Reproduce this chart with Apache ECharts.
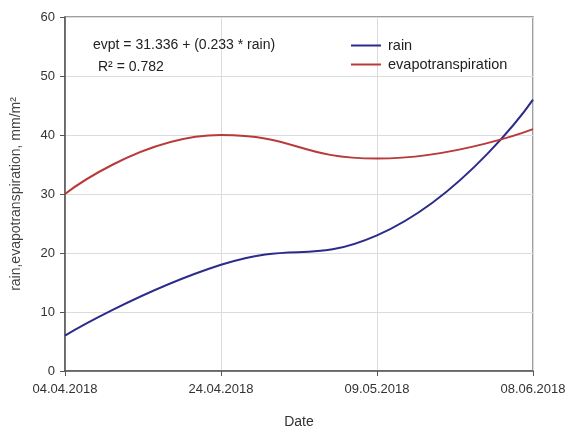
<!DOCTYPE html>
<html>
<head>
<meta charset="utf-8">
<script src="https://cdn.jsdelivr.net/npm/echarts@6/dist/echarts.min.js"></script>
<style>html,body{margin:0;padding:0;background:#fff;}#c{width:566px;height:428px;}</style>
</head>
<body>
<div id="c"></div>
<script>
const categories = ['04.04.2018', '24.04.2018', '09.05.2018', '08.06.2018'];
const rain = [6, 18, 23, 46];
const evapotranspiration = [30, 40, 36, 41];
const yTicks = { min: 0, max: 60, interval: 10 };
const equationText = 'evpt = 31.336 + (0.233 * rain)';
const r2Text = 'R² = 0.782';

const FONT = '"Liberation Sans", Arial, sans-serif';
const chart = echarts.init(document.getElementById('c'), null, { renderer: 'canvas' });
chart.setOption({
  animation: false,
  backgroundColor: '#fff',
  textStyle: { fontFamily: FONT },
  grid: { left: 65, right: 33, top: 17, bottom: 57, show: true, borderColor: '#808080', borderWidth: 1.5,
          containLabel: false, outerBoundsMode: 'none' },
  title: [
    { text: equationText, left: 88, top: 33, textStyle: { fontSize: 14, fontWeight: 'normal', color: '#222', fontFamily: FONT } },
    { text: r2Text, left: 93, top: 55, textStyle: { fontSize: 14, fontWeight: 'normal', color: '#222', fontFamily: FONT } }
  ],
  legend: {
    orient: 'vertical', left: 346, top: 33, itemGap: 4, itemWidth: 30, itemHeight: 14,
    icon: 'path://M0,6 L30,6 L30,8 L0,8 Z',
    textStyle: { fontSize: 14.5, color: '#222', fontFamily: FONT, padding: [0, 0, 0, 2] },
    data: ['rain', 'evapotranspiration']
  },
  xAxis: {
    type: 'category', data: categories, boundaryGap: false,
    name: 'Date', nameLocation: 'middle', nameGap: 44,
    nameTextStyle: { fontSize: 14, color: '#333', fontFamily: FONT },
    axisLine: { lineStyle: { color: '#555', width: 1.5 } },
    axisTick: { show: true, length: 5, inside: false, alignWithLabel: true, lineStyle: { color: '#555' } },
    axisLabel: { fontSize: 13, color: '#333', margin: 12, fontFamily: FONT },
    splitLine: { show: true, lineStyle: { color: '#dcdcdc', width: 1 } }
  },
  yAxis: {
    type: 'value', min: yTicks.min, max: yTicks.max, interval: yTicks.interval,
    name: 'rain,evapotranspiration, mm/m²', nameLocation: 'middle', nameGap: 42,
    nameTextStyle: { fontSize: 14, color: '#444', fontFamily: FONT },
    axisLine: { show: true, lineStyle: { color: '#555', width: 1.5 } },
    axisTick: { show: true, length: 5, lineStyle: { color: '#555' } },
    axisLabel: { fontSize: 13, color: '#333', margin: 10, fontFamily: FONT },
    splitLine: { show: true, lineStyle: { color: '#dcdcdc', width: 1 } }
  },
  series: [
    { name: 'rain', type: 'line', data: rain, smooth: 0.5, showSymbol: false, symbol: 'none',
      lineStyle: { color: '#2b2b8c', width: 2 }, itemStyle: { color: '#2b2b8c' } },
    { name: 'evapotranspiration', type: 'line', data: evapotranspiration, smooth: 0.5, showSymbol: false, symbol: 'none',
      lineStyle: { color: '#b83a3a', width: 2 }, itemStyle: { color: '#b83a3a' } }
  ]
});
</script>
</body>
</html>
